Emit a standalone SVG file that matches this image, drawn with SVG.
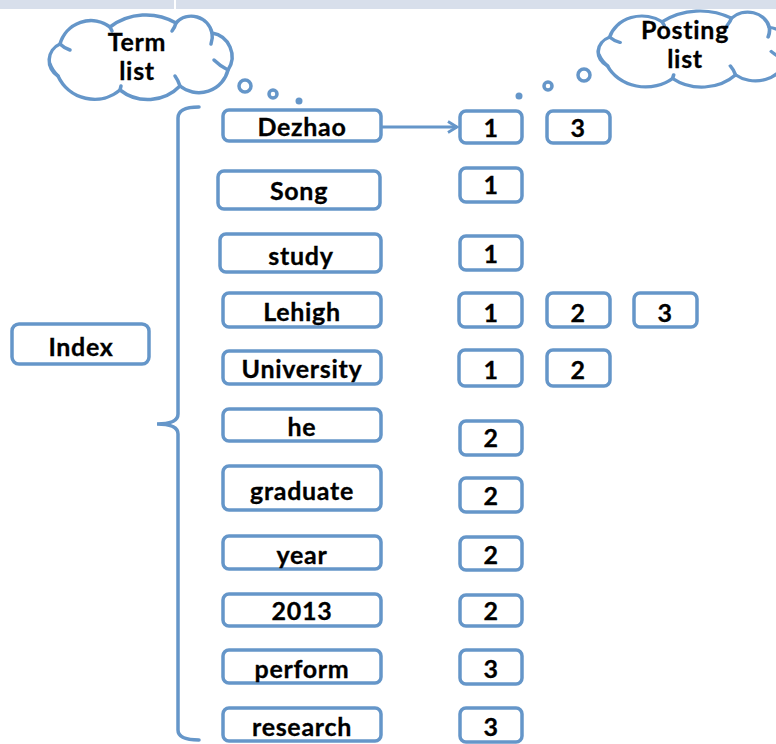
<svg xmlns="http://www.w3.org/2000/svg" width="776" height="744" viewBox="0 0 776 744">
<defs>
<style>
.b{fill:#fff;stroke:#6596c9;stroke-width:3.5}
.c{fill:#fff;stroke:#6596c9;stroke-width:3.5;stroke-linejoin:round}
.ln{fill:none;stroke:#6596c9;stroke-width:3.5;stroke-linecap:round}
.t{font-family:Lato,"Open Sans",sans-serif;font-weight:bold;font-size:25px;letter-spacing:0.7px;fill:#000;stroke:#000;stroke-width:0.3px;text-anchor:middle}
</style>
<marker id="ah" markerWidth="14" markerHeight="14" refX="11" refY="7" orient="auto" markerUnits="userSpaceOnUse">
<path d="M2,1.5 L11,7 L2,12.5" fill="none" stroke="#6596c9" stroke-width="2.8"/>
</marker>
<g id="cloudShape">
<path class="c" d="M58,76 A18,18 0 0 1 60,44 A32,32 0 0 1 110,27 A60,60 0 0 1 176,23 A21,21 0 0 1 212,33 A24,24 0 0 1 228,70 A30,30 0 0 1 180,86 A45,45 0 0 1 120,90 A40,40 0 0 1 58,76 Z"/>
<path class="ln" d="M58,76 Q52,70 50,64 M60,44 Q64,48 70,50 M110,27 Q111,29 112,31 M176,23 Q175,27 172,31 M212,33 Q213,38 211,44 M228,70 Q220,66 214,60 M180,86 Q178,80 175,76 M120,90 Q120.5,88 121,86"/>
</g>
</defs>
<rect x="0" y="0" width="776" height="9" fill="#d8dfeb"/>
<rect x="174" y="0" width="2" height="9" fill="#fff"/>

<g id="term-cloud">
<use href="#cloudShape"/>
<text class="t" x="137" y="51">Term</text>
<text class="t" x="137" y="80">list</text>
<circle class="b" cx="245" cy="86" r="6" stroke-width="3"/>
<circle class="b" cx="273" cy="94" r="4" stroke-width="3"/>
<circle cx="299" cy="101" r="3.5" fill="#6596c9"/>
</g>

<g id="posting-cloud">
<use href="#cloudShape" transform="translate(597,11) scale(1.05,0.9) translate(-48,-15)"/>
<text class="t" x="685" y="39">Posting</text>
<text class="t" x="685" y="68">list</text>
<circle class="b" cx="584" cy="75" r="6" stroke-width="3"/>
<circle class="b" cx="548" cy="86" r="4" stroke-width="3"/>
<circle cx="519" cy="96" r="3.5" fill="#6596c9"/>
</g>

<g id="index"><rect class="b" x="12" y="324" width="137" height="40" rx="7"/><text class="t" x="81" y="356">Index</text></g>

<g id="connectors">
<path class="ln" d="M199,107 Q178,107 178,118 L178,414 Q178,424 157,424 Q178,424 178,434 L178,730 Q178,740 199,740"/>
<line x1="382" y1="127" x2="457" y2="127" stroke="#6596c9" stroke-width="3" marker-end="url(#ah)"/>
</g>

<g id="t-dezhao"><rect class="b" x="223" y="110" width="158" height="31" rx="6"/><text class="t" x="302" y="136">Dezhao</text></g>
<g id="t-song"><rect class="b" x="218" y="171" width="162" height="38" rx="6"/><text class="t" x="299" y="200">Song</text></g>
<g id="t-study"><rect class="b" x="220" y="234" width="161" height="38" rx="6"/><text class="t" x="301" y="265">study</text></g>
<g id="t-lehigh"><rect class="b" x="223" y="293" width="158" height="34" rx="6"/><text class="t" x="302" y="321">Lehigh</text></g>
<g id="t-university"><rect class="b" x="223" y="351" width="158" height="33" rx="6"/><text class="t" x="302" y="378">University</text></g>
<g id="t-he"><rect class="b" x="223" y="409" width="158" height="32" rx="6"/><text class="t" x="302" y="436">he</text></g>
<g id="t-graduate"><rect class="b" x="223" y="466" width="158" height="44" rx="6"/><text class="t" x="302" y="500">graduate</text></g>
<g id="t-year"><rect class="b" x="223" y="536" width="158" height="33" rx="6"/><text class="t" x="302" y="564">year</text></g>
<g id="t-2013"><rect class="b" x="223" y="594" width="158" height="32" rx="6"/><text class="t" x="302" y="620">2013</text></g>
<g id="t-perform"><rect class="b" x="223" y="650" width="158" height="33" rx="6"/><text class="t" x="302" y="678">perform</text></g>
<g id="t-research"><rect class="b" x="223" y="708" width="158" height="33" rx="6"/><text class="t" x="302" y="736">research</text></g>

<g id="p-dezhao"><rect class="b" x="460" y="111" width="62" height="32" rx="6"/><text class="t" x="491" y="137">1</text><rect class="b" x="547" y="111" width="63" height="32" rx="6"/><text class="t" x="578" y="137">3</text></g>
<g id="p-song"><rect class="b" x="460" y="168" width="62" height="34" rx="6"/><text class="t" x="491" y="194">1</text></g>
<g id="p-study"><rect class="b" x="460" y="236" width="62" height="34" rx="6"/><text class="t" x="491" y="263">1</text></g>
<g id="p-lehigh"><rect class="b" x="459" y="293" width="63" height="34" rx="6"/><text class="t" x="491" y="322">1</text><rect class="b" x="547" y="293" width="63" height="34" rx="6"/><text class="t" x="578" y="322">2</text><rect class="b" x="634" y="293" width="63" height="34" rx="6"/><text class="t" x="665" y="322">3</text></g>
<g id="p-university"><rect class="b" x="459" y="350" width="63" height="36" rx="6"/><text class="t" x="491" y="379">1</text><rect class="b" x="547" y="350" width="63" height="36" rx="6"/><text class="t" x="578" y="379">2</text></g>
<g id="p-he"><rect class="b" x="460" y="421" width="62" height="34" rx="6"/><text class="t" x="491" y="447">2</text></g>
<g id="p-graduate"><rect class="b" x="460" y="478" width="62" height="34" rx="6"/><text class="t" x="491" y="505">2</text></g>
<g id="p-year"><rect class="b" x="460" y="537" width="62" height="33" rx="6"/><text class="t" x="491" y="564">2</text></g>
<g id="p-2013"><rect class="b" x="460" y="595" width="62" height="31" rx="6"/><text class="t" x="491" y="620">2</text></g>
<g id="p-perform"><rect class="b" x="460" y="650" width="62" height="34" rx="6"/><text class="t" x="491" y="678">3</text></g>
<g id="p-research"><rect class="b" x="460" y="708" width="62" height="34" rx="6"/><text class="t" x="491" y="736">3</text></g>
</svg>
